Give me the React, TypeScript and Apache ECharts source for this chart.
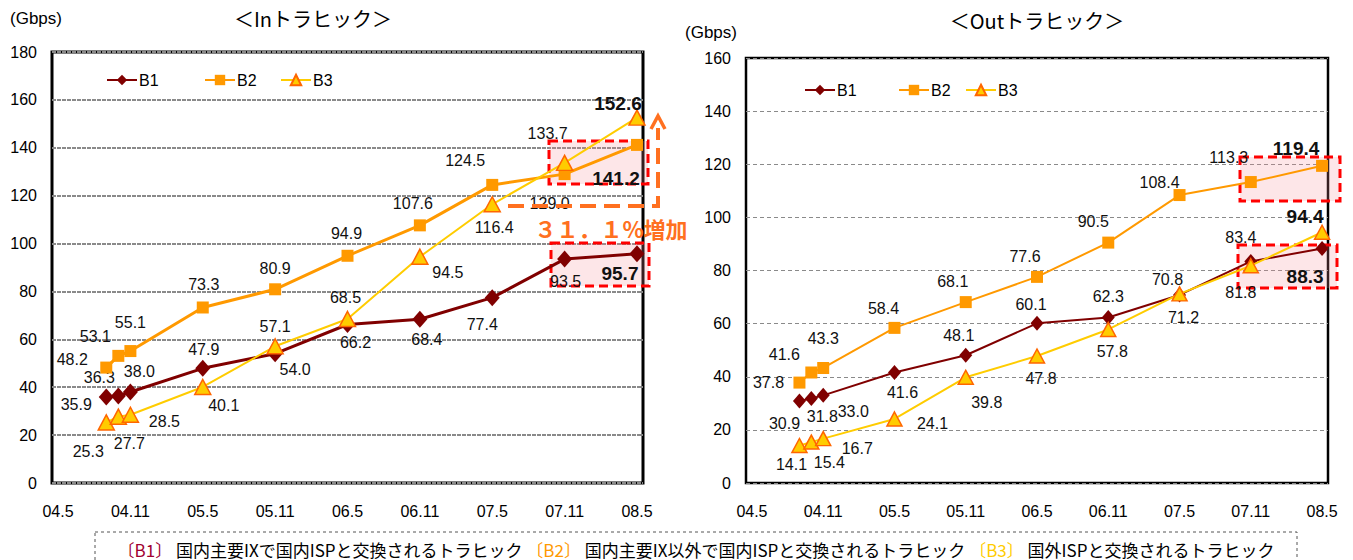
import { useEffect, useRef } from 'react';
import * as echarts from 'echarts';

// x-axis tick labels (every six months) and the survey months that carry data
const tickLabels = ['04.5', '04.11', '05.5', '05.11', '06.5', '06.11', '07.5', '07.11', '08.5'];
const dates = ['04.9', '04.10', '04.11', '05.5', '05.11', '06.5', '06.11', '07.5', '07.11', '08.5'];

// In traffic (Gbps)
const inB1 = [35.9, 36.3, 38.0, 47.9, 54.0, 66.2, 68.4, 77.4, 93.5, 95.7];
const inB2 = [48.2, 53.1, 55.1, 73.3, 80.9, 94.9, 107.6, 124.5, 129.0, 141.2];
const inB3 = [25.3, 27.7, 28.5, 40.1, 57.1, 68.5, 94.5, 116.4, 133.7, 152.6];

// Out traffic (Gbps)
const outB1 = [30.9, 31.8, 33.0, 41.6, 48.1, 60.1, 62.3, 70.8, 83.4, 88.3];
const outB2 = [37.8, 41.6, 43.3, 58.4, 68.1, 77.6, 90.5, 108.4, 113.3, 119.4];
const outB3 = [14.1, 15.4, 16.7, 24.1, 39.8, 47.8, 57.8, 71.2, 81.8, 94.4];

// value label placement relative to each marker [dx, dy]
const inB1Off = [[-30, 7], [-19, -19], [9, -21], [1, -19], [20, 16], [8, 18], [7, 20], [-10, 27], [1, 22], [-17, 20]];
const inB2Off = [[-34, -8], [-23, -19], [0, -29], [1, -23], [0, -21], [-1, -22], [-7, -22], [-27, -24], [-15, 29], [-21, 34]];
const inB3Off = [[-18, 29], [11, 27], [34, 7], [21, 19], [0, -20], [-2, -21], [28, 16], [2, 23], [-17, -29], [-19, -14]];
const outB1Off = [[-15, 23], [11, 18], [30, 16], [8, 20], [-7, -20], [-6, -19], [0, -21], [-12, -15], [-10, -24], [-17, 28]];
const outB2Off = [[-31, 0], [-27, -18], [0, -29], [-11, -19], [-13, -21], [-12, -20], [-15, -21], [-20, -13], [-22, -25], [-26, -17]];
const outB3Off = [[-8, 19], [18, 20], [34, 10], [38, 5], [21, 25], [4, 22], [4, 22], [4, 24], [-10, 27], [-17, -16]];

const LATIN = '"Liberation Sans", Arial, "Noto Sans CJK JP", sans-serif';
const CJK = '"Noto Sans CJK JP", "Liberation Sans", sans-serif';

// every month between the first and the last tick label, as "yy.m"
function monthCategories(first: string, last: string): string[] {
  const [fy, fm] = first.split('.').map(Number);
  const [ly, lm] = last.split('.').map(Number);
  const out: string[] = [];
  for (let y = fy; y <= ly; y++) {
    for (let m = 1; m <= 12; m++) {
      if (y === fy && m < fm) continue;
      if (y === ly && m > lm) continue;
      out.push(`${String(y).padStart(2, '0')}.${m}`);
    }
  }
  return out;
}

const months = monthCategories(tickLabels[0], tickLabels[tickLabels.length - 1]);

function points(values: number[], offsets: number[][]) {
  return values.map((v, i) => {
    const last = i === values.length - 1;
    return {
      value: [dates[i], v],
      label: {
        show: true,
        position: 'inside',
        offset: offsets[i],
        fontWeight: last ? 'bold' : 'normal',
        fontSize: last ? 19 : 16,
        formatter: v.toFixed(1),
      },
    };
  });
}

const COL_B1 = '#800000';
const COL_B2 = '#FF9900';
const COL_B3 = '#FFCC00';
const COL_TRI_EDGE = '#FF6600';
const ARROW = '#FF7020';

function lineSeries(
  name: string,
  values: number[],
  offsets: number[][],
  idx: number,
  kind: 1 | 2 | 3,
  wide: boolean
) {
  const color = kind === 1 ? COL_B1 : kind === 2 ? COL_B2 : COL_B3;
  const symbol = kind === 1 ? 'diamond' : kind === 2 ? 'rect' : 'triangle';
  const symbolSize =
    kind === 1 ? (wide ? [15, 17] : [13, 15]) : kind === 2 ? 12 : wide ? [16, 15] : [15, 14];
  return {
    type: 'line',
    name,
    xAxisIndex: idx,
    yAxisIndex: idx,
    data: points(values, offsets),
    symbol,
    symbolSize,
    showAllSymbol: true,
    smooth: false,
    lineStyle: { color, width: wide ? (kind === 3 ? 2 : 3) : 2 },
    itemStyle:
      kind === 3
        ? { color: COL_B3, borderColor: COL_TRI_EDGE, borderWidth: 1.5 }
        : { color, borderWidth: 0 },
    label: {
      show: true,
      position: 'inside',
      color: '#111',
      fontFamily: LATIN,
      align: 'center',
      verticalAlign: 'middle',
    },
    emphasis: { disabled: true },
    z: 3 + kind,
  };
}

function xAxis(gridIndex: number) {
  return {
    type: 'category',
    gridIndex,
    data: months,
    boundaryGap: true,
    axisLine: { show: false },
    axisTick: { show: false },
    axisLabel: {
      interval: (_i: number, v: string) => tickLabels.includes(v),
      color: '#000',
      fontSize: 16,
      fontFamily: LATIN,
      margin: 20,
    },
    splitLine: { show: false },
  };
}

function yAxis(gridIndex: number, max: number, wide: boolean) {
  return {
    type: 'value',
    gridIndex,
    min: 0,
    max,
    interval: 20,
    axisLine: { show: false },
    axisTick: { show: false },
    axisLabel: { color: '#000', fontSize: 16, fontFamily: LATIN, margin: 15 },
    splitLine: {
      show: true,
      lineStyle: wide
        ? { color: '#8a8a8a', width: 2, type: [4, 1] }
        : { color: '#8a8a8a', width: 1, type: [4, 3] },
    },
  };
}

function legendItem(name: string, left: number, top: number) {
  return {
    data: [name],
    left,
    top,
    orient: 'horizontal',
    itemWidth: 30,
    itemHeight: 13,
    itemGap: 4,
    selectedMode: false,
    textStyle: { color: '#000', fontSize: 16, fontFamily: LATIN, padding: [0, 0, 0, -3] },
  };
}

function box(x1: number, y1: number, x2: number, y2: number) {
  return {
    type: 'rect',
    shape: { x: x1, y: y1, width: x2 - x1, height: y2 - y1 },
    style: {
      fill: 'rgba(245,140,150,0.22)',
      stroke: '#FF0000',
      lineWidth: 3,
      lineDash: [9, 5],
    },
    z: 1,
  };
}

export default function App() {
  const ref = useRef<HTMLDivElement>(null);

  useEffect(() => {
    if (!ref.current) return;
    const chart = echarts.init(ref.current, undefined, { renderer: 'svg' });

    chart.setOption({
      animation: false,
      backgroundColor: '#fff',
      grid: [
        { left: 52, top: 52, width: 591, height: 431, show: true, borderColor: '#000', borderWidth: 3, backgroundColor: 'transparent' },
        { left: 746, top: 58, width: 582, height: 425, show: true, borderColor: '#000', borderWidth: 2.5, backgroundColor: 'transparent' },
      ],
      xAxis: [xAxis(0), xAxis(1)],
      yAxis: [yAxis(0, 180, true), yAxis(1, 160, false)],
      legend: [
        legendItem('B1', 101, 67),
        legendItem('B2', 199, 67),
        legendItem('B3', 275, 67),
        legendItem('B1', 799, 77),
        legendItem('B2', 893, 77),
        legendItem('B3', 960, 77),
      ],
      series: [
        lineSeries('B1', inB1, inB1Off, 0, 1, true),
        lineSeries('B2', inB2, inB2Off, 0, 2, true),
        lineSeries('B3', inB3, inB3Off, 0, 3, true),
        lineSeries('B1', outB1, outB1Off, 1, 1, false),
        lineSeries('B2', outB2, outB2Off, 1, 2, false),
        lineSeries('B3', outB3, outB3Off, 1, 3, false),
      ],
      graphic: [
        // panel titles and units
        { type: 'text', x: 313, y: 18, style: { text: '＜Inトラヒック＞', font: `20px ${CJK}`, fill: '#000', align: 'center', verticalAlign: 'middle' } },
        { type: 'text', x: 1037, y: 20, style: { text: '＜Outトラヒック＞', font: `20px ${CJK}`, fill: '#000', align: 'center', verticalAlign: 'middle' } },
        { type: 'text', x: 36, y: 18, style: { text: '(Gbps)', font: `17px ${LATIN}`, fill: '#000', align: 'center', verticalAlign: 'middle' } },
        { type: 'text', x: 711, y: 32, style: { text: '(Gbps)', font: `17px ${LATIN}`, fill: '#000', align: 'center', verticalAlign: 'middle' } },

        // highlight boxes
        box(549, 141, 648, 184),
        box(551, 243, 649, 286),
        box(1240, 157, 1340, 201),
        box(1238, 245, 1337, 288),

        // growth arrow
        {
          type: 'polyline',
          shape: { points: [[508, 206], [658, 206], [658, 128]] },
          style: { stroke: ARROW, lineWidth: 4, lineDash: [16, 8], fill: 'none' },
          z: 20,
        },
        {
          type: 'polyline',
          shape: { points: [[651, 129], [658, 116], [665, 129]] },
          style: { stroke: ARROW, lineWidth: 3.5, fill: 'none' },
          z: 20,
        },
        {
          type: 'text',
          x: 611,
          y: 228,
          style: { text: '３１．１%増加', font: `bold 22px ${CJK}`, fill: ARROW, align: 'center', verticalAlign: 'middle' },
          z: 20,
        },

        // category notes
        {
          type: 'rect',
          shape: { x: 95, y: 532, width: 1202, height: 60 },
          style: { fill: 'none', stroke: '#555', lineWidth: 1, lineDash: [3, 3] },
        },
        {
          type: 'text',
          x: 696,
          y: 549,
          style: {
            text:
              '{r|〔B1〕} 国内主要IXで国内ISPと交換されるトラヒック {o|〔B2〕} 国内主要IX以外で国内ISPと交換されるトラヒック {y|〔B3〕} 国外ISPと交換されるトラヒック',
            font: `17px ${CJK}`,
            fill: '#000',
            align: 'center',
            verticalAlign: 'middle',
            rich: {
              r: { fill: '#A00030', font: `17px ${CJK}` },
              o: { fill: COL_B2, font: `17px ${CJK}` },
              y: { fill: COL_B3, font: `17px ${CJK}` },
            },
          },
        },
      ],
    });

    return () => chart.dispose();
  }, []);

  return (
    <div
      ref={ref}
      style={{ position: 'absolute', left: 0, top: 0, width: 1353, height: 560, background: '#fff' }}
    />
  );
}
